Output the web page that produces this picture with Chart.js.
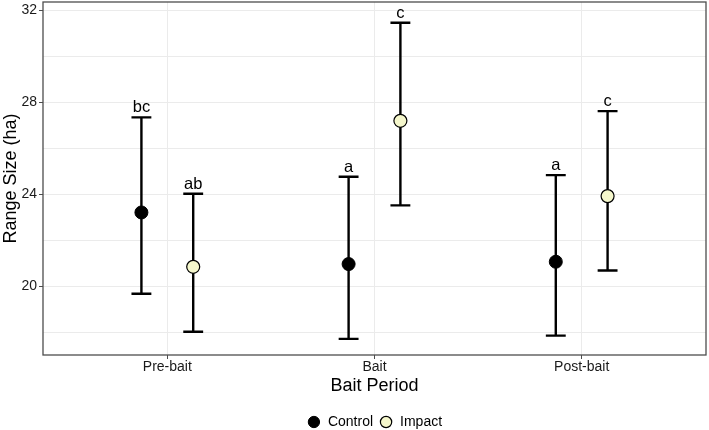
<!DOCTYPE html>
<html><head><meta charset="utf-8">
<script src="https://cdn.jsdelivr.net/npm/chart.js@4.4.1/dist/chart.umd.min.js"></script>
<style>html,body{margin:0;padding:0;background:#fff}#wrap{width:709px;height:430px}</style>
</head><body><div id="wrap"><canvas id="c" width="709" height="430"></canvas></div>
<script>
const categories = ['Pre-bait', 'Bait', 'Post-bait'];
const controlMean = [23.21, 20.97, 21.07];
const controlLow = [19.68, 17.72, 17.86];
const controlHigh = [27.34, 24.76, 24.83];
const impactMean = [20.85, 27.19, 23.92];
const impactLow = [18.03, 23.52, 20.69];
const impactHigh = [24.02, 31.45, 27.61];
const controlLetters = ['bc', 'a', 'a'];
const impactLetters = ['ab', 'c', 'c'];
const yTicks = [18, 20, 22, 24, 26, 28, 30, 32];
const yLabelled = [20, 24, 28, 32];

const dodge = 0.125;
const capHalf = 0.048;
const groups = [
  {off: -dodge, low: controlLow, high: controlHigh, letters: controlLetters},
  {off: dodge, low: impactLow, high: impactHigh, letters: impactLetters}
];

const FONT = '"Liberation Sans", Arial, sans-serif';

const errorBarPlugin = {
  id: 'errorBars',
  afterLayout(chart) {
    const l = chart.legend;
    if (l) { l.left = chart.chartArea.left; l.right = chart.chartArea.right; }
  },
  beforeDatasetsDraw(chart) {
    const {ctx, scales: {x, y}} = chart;
    ctx.save();
    ctx.strokeStyle = '#000';
    ctx.lineWidth = 2.4;
    ctx.fillStyle = '#000';
    ctx.font = '16.5px ' + FONT;
    ctx.textAlign = 'center';
    ctx.textBaseline = 'alphabetic';
    groups.forEach(g => {
      g.low.forEach((lo, i) => {
        const px = x.getPixelForValue(i + g.off);
        const half = x.getPixelForValue(i + g.off + capHalf) - px;
        const yl = y.getPixelForValue(lo);
        const yh = y.getPixelForValue(g.high[i]);
        ctx.beginPath();
        ctx.moveTo(px, yl); ctx.lineTo(px, yh);
        ctx.moveTo(px - half, yl); ctx.lineTo(px + half, yl);
        ctx.moveTo(px - half, yh); ctx.lineTo(px + half, yh);
        ctx.stroke();
        ctx.fillText(g.letters[i], px, yh - 5);
      });
    });
    ctx.restore();
  },
  afterDraw(chart) {
    const {ctx, chartArea: a} = chart;
    ctx.save();
    ctx.strokeStyle = '#4d4d4d';
    ctx.lineWidth = 1.3;
    ctx.strokeRect(a.left, a.top, a.right - a.left, a.bottom - a.top);
    ctx.restore();
  }
};

new Chart(document.getElementById('c'), {
  type: 'scatter',
  data: {
    datasets: [
      {
        label: 'Control',
        data: controlMean.map((v, i) => ({x: i - dodge, y: v})),
        backgroundColor: '#000',
        borderColor: '#000',
        borderWidth: 1,
        pointRadius: 6.5,
        pointStyle: 'circle'
      },
      {
        label: 'Impact',
        data: impactMean.map((v, i) => ({x: i + dodge, y: v})),
        backgroundColor: '#f5f7cc',
        borderColor: '#000',
        borderWidth: 1.2,
        pointRadius: 6.5,
        pointStyle: 'circle'
      }
    ]
  },
  options: {
    responsive: false,
    devicePixelRatio: 1,
    animation: false,
    layout: {autoPadding: false, padding: {left: 0, right: 3, top: 2, bottom: -9}},
    plugins: {
      tooltip: {enabled: false},
      legend: {
        position: 'bottom',
        labels: {
          usePointStyle: true,
          boxWidth: 14,
          boxHeight: 8,
          padding: 6,
          color: '#000',
          font: {family: FONT, size: 14}
        }
      }
    },
    scales: {
      x: {
        type: 'linear',
        min: -0.6,
        max: 2.6,
        afterBuildTicks: s => { s.ticks = categories.map((c, i) => ({value: i})); },
        afterFit: s => { s.height = 54; s.paddingLeft = 0; s.paddingRight = 0; },
        ticks: {
          autoSkip: false,
          maxRotation: 0,
          padding: 0,
          color: '#1a1a1a',
          font: {family: FONT, size: 14},
          callback: v => categories[v]
        },
        grid: {color: '#ebebeb', lineWidth: 1, tickLength: 4, tickColor: '#4d4d4d'},
        border: {display: false},
        title: {
          display: true,
          text: 'Bait Period',
          color: '#000',
          font: {family: FONT, size: 18},
          padding: {top: 0, bottom: 12}
        }
      },
      y: {
        type: 'linear',
        min: 17.02,
        max: 32.35,
        afterBuildTicks: s => { s.ticks = yTicks.map(v => ({value: v})); },
        afterFit: s => { s.width = 43; s.paddingTop = 0; s.paddingBottom = 0; },
        ticks: {
          padding: 2,
          color: '#1a1a1a',
          font: {family: FONT, size: 14},
          callback: v => (yLabelled.includes(v) ? String(v) : '')
        },
        grid: {
          color: '#ebebeb',
          lineWidth: 1,
          tickLength: 4,
          tickColor: c => (c.tick && yLabelled.includes(c.tick.value) ? '#4d4d4d' : 'rgba(0,0,0,0)')
        },
        border: {display: false},
        title: {
          display: true,
          text: 'Range Size (ha)',
          color: '#000',
          font: {family: FONT, size: 18},
          padding: {top: 0, bottom: 0}
        }
      }
    }
  },
  plugins: [errorBarPlugin]
});
</script>
</body></html>
